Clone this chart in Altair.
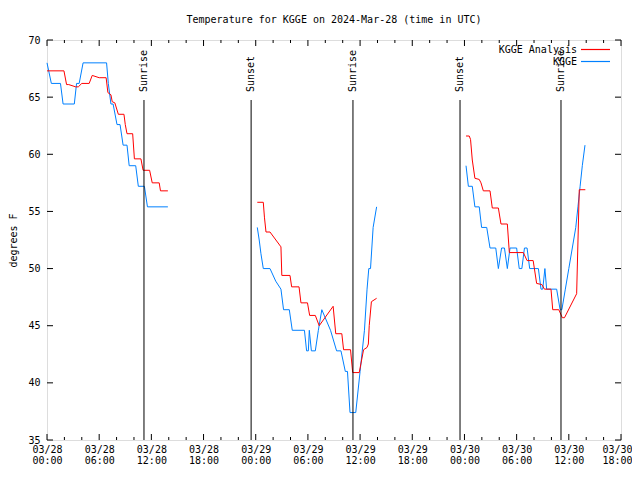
import altair as alt
import pandas as pd

# Time axis: hours since 2024-03-28 00:00 UTC
# KGGE observations (blue), three segments
blue_h1 = [0.0, 0.5, 1.55, 1.85, 3.14, 3.4, 3.7, 4.15, 6.85, 7.05, 7.35, 7.6, 8.05, 8.4, 8.75, 9.2, 9.45, 10.2, 10.5, 11.2, 11.55, 13.9]
blue_t1 = [68.0, 66.2, 66.2, 64.4, 64.4, 66.2, 66.2, 68.0, 68.0, 66.2, 64.4, 64.4, 62.6, 62.6, 60.8, 60.8, 59.0, 59.0, 57.2, 57.2, 55.4, 55.4]
blue_h2 = [24.18, 24.4, 24.6, 24.87, 25.64, 26.3, 26.9, 27.2, 27.86, 28.2, 29.6, 29.85, 30.05, 30.16, 30.4, 30.85, 31.2, 31.6, 32.6, 33.3, 33.8, 34.3, 34.55, 34.84, 35.5, 36.0, 36.5, 36.8, 37.0, 37.2, 37.5, 37.9]
blue_t2 = [53.6, 52.5, 51.3, 50.0, 50.0, 48.9, 48.2, 46.4, 46.4, 44.6, 44.6, 42.8, 42.8, 44.6, 42.8, 42.8, 44.6, 46.4, 44.6, 42.8, 42.8, 41.0, 41.0, 37.4, 37.4, 41.0, 44.6, 48.2, 50.0, 50.0, 53.6, 55.4]
blue_h3 = [48.18, 48.45, 48.9, 49.2, 49.7, 49.97, 50.56, 50.94, 51.6, 51.9, 52.27, 52.6, 52.93, 53.24, 54.0, 54.3, 54.6, 54.9, 55.2, 55.5, 56.5, 56.8, 57.0, 57.25, 57.45, 58.6, 59.0, 59.2, 59.6, 60.0, 60.4, 60.8, 61.05, 61.3, 61.55, 61.86]
blue_t3 = [59.0, 57.2, 57.2, 55.4, 55.4, 53.6, 53.6, 51.8, 51.8, 50.0, 51.8, 51.8, 50.0, 51.8, 51.8, 50.0, 50.0, 51.8, 51.8, 50.0, 50.0, 48.2, 48.2, 50.0, 48.2, 48.2, 46.4, 46.4, 48.2, 50.0, 51.8, 53.6, 55.4, 57.2, 59.0, 60.8]

# KGGE Analysis (red), three segments
red_h1 = [0.0, 1.95, 2.25, 2.5, 3.3, 3.6, 4.0, 4.85, 5.2, 6.0, 6.8, 7.0, 7.35, 7.5, 7.8, 8.2, 8.85, 9.0, 9.2, 9.85, 10.05, 10.8, 11.05, 11.8, 12.1, 12.9, 13.05, 13.9]
red_t1 = [67.3, 67.3, 66.1, 66.1, 65.9, 65.9, 66.2, 66.2, 66.9, 66.7, 66.7, 65.4, 65.2, 64.6, 64.5, 63.5, 63.5, 62.6, 61.8, 61.8, 59.6, 59.6, 58.6, 58.6, 57.5, 57.5, 56.8, 56.8]
red_h2 = [24.18, 24.87, 25.0, 25.18, 25.64, 26.9, 27.0, 27.94, 28.13, 28.98, 29.2, 29.95, 30.2, 30.85, 31.3, 32.9, 33.2, 33.9, 34.1, 34.9, 35.1, 35.15, 35.9, 36.4, 36.8, 36.95, 37.05, 37.3, 37.9]
red_t2 = [55.8, 55.8, 54.5, 53.2, 53.2, 51.9, 49.4, 49.4, 48.4, 48.4, 47.0, 47.0, 45.9, 45.9, 45.0, 46.7, 44.3, 44.3, 42.9, 42.9, 41.3, 40.9, 40.9, 42.9, 43.1, 43.4, 45.0, 47.1, 47.4]
red_h3 = [48.18, 48.55, 48.7, 48.9, 49.2, 49.7, 49.9, 50.17, 50.94, 51.2, 51.9, 52.2, 52.93, 53.16, 54.77, 55.2, 55.9, 56.3, 56.9, 57.2, 57.95, 58.15, 58.85, 59.25, 59.5, 60.9, 61.2, 61.9]
red_t3 = [61.6, 61.6, 61.3, 59.5, 57.9, 57.8, 57.5, 56.8, 56.8, 55.3, 55.3, 53.9, 53.9, 51.4, 51.4, 50.7, 50.7, 48.7, 48.6, 48.2, 48.2, 46.4, 46.4, 45.7, 45.7, 47.8, 56.9, 56.9]

# Sunrise / sunset markers
event_h = [11.15, 23.47, 35.18, 47.49, 59.1]
event_label = ["Sunrise", "Sunset", "Sunrise", "Sunset", "Sunrise"]

x_major = list(range(0, 67, 6))
x_minor = [h for h in range(0, 67, 2) if h % 6 != 0]
y_major = [35, 40, 45, 50, 55, 60, 65, 70]

title_text = "Temperature for KGGE on 2024-Mar-28 (time in UTC)"
series_names = ["KGGE Analysis", "KGGE"]
series_colors = ["#ff0000", "#0080ff"]

FONT = "DejaVu Sans Mono"
W, H = 574, 400
YMIN, YMAX = 35, 70

def seg_frame(hs, ts, seg):
    return pd.DataFrame({"h": hs, "v": ts, "seg": seg})

blue_df = pd.concat([seg_frame(blue_h1, blue_t1, 1), seg_frame(blue_h2, blue_t2, 2), seg_frame(blue_h3, blue_t3, 3)])
red_df = pd.concat([seg_frame(red_h1, red_t1, 1), seg_frame(red_h2, red_t2, 2), seg_frame(red_h3, red_t3, 3)])

xscale = alt.Scale(domain=[0, 66], nice=False, zero=False)
yscale = alt.Scale(domain=[YMIN, YMAX], nice=False, zero=False)

label_expr = ("['03/' + (28 + floor(datum.value / 24)), "
              "(datum.value % 24 < 10 ? '0' : '') + (datum.value % 24) + ':00']")

x_enc = alt.X("h:Q", scale=xscale,
              axis=alt.Axis(values=x_major, labelExpr=label_expr, ticks=False, domain=False,
                            grid=False, title=None, labelFont=FONT, labelFontSize=10,
                            labelColor="black", labelPadding=4, labelLineHeight=11,
                            labelBaseline="top", labelFlush=False, labelOverlap=False,
                            labelOffset={"condition": {"test": "datum.value == 66", "value": -4},
                                         "value": 0}))
y_enc = alt.Y("v:Q", scale=yscale,
              axis=alt.Axis(values=y_major, ticks=False, domain=False, grid=False,
                            title="degrees F", titleFont=FONT, titleFontSize=10,
                            titleFontWeight="normal", titleColor="black", titleAngle=270,
                            titleX=-34, titleY=200, titleAlign="center", titleBaseline="middle",
                            labelFont=FONT, labelFontSize=10, labelColor="black",
                            labelPadding=7, labelFlush=False))

blue_line = alt.Chart(blue_df).mark_line(color=series_colors[1], stroke=series_colors[1], strokeWidth=1).encode(
    x=x_enc, y=y_enc, detail="seg:N", order="h:Q")
red_line = alt.Chart(red_df).mark_line(color=series_colors[0], stroke=series_colors[0], strokeWidth=1).encode(
    x=x_enc, y=y_enc, detail="seg:N", order="h:Q")

# markers drawn from graph 0 to graph 0.85, labels start at graph 0.87
span = YMAX - YMIN
ev_rule_df = pd.DataFrame({"h": event_h, "v": [YMIN] * 5, "v2": [YMIN + 0.85 * span] * 5})
ev_text_df = pd.DataFrame({"h": event_h, "v": [YMIN + 0.87 * span] * 5, "lab": event_label})
ev_rules = alt.Chart(ev_rule_df).mark_rule(color="black", strokeWidth=1).encode(
    x=x_enc, y=y_enc, y2="v2:Q")
ev_text = alt.Chart(ev_text_df).mark_text(angle=270, align="left", baseline="middle",
                                          font=FONT, fontSize=10, color="black").encode(
    x=x_enc, y=y_enc, text="lab:N")

# inward tick marks (gnuplot style)
xmaj_df = pd.DataFrame({"h": x_major})
xmin_df = pd.DataFrame({"h": x_minor})
ymaj_df = pd.DataFrame({"v": y_major})
tick_layers = [
    alt.Chart(xmaj_df).mark_rule(color="black").encode(x=x_enc, y=alt.value(H), y2=alt.value(H - 6)),
    alt.Chart(xmaj_df).mark_rule(color="black").encode(x=x_enc, y=alt.value(0), y2=alt.value(6)),
    alt.Chart(xmin_df).mark_rule(color="black").encode(x=x_enc, y=alt.value(H), y2=alt.value(H - 3)),
    alt.Chart(xmin_df).mark_rule(color="black").encode(x=x_enc, y=alt.value(0), y2=alt.value(3)),
    alt.Chart(ymaj_df).mark_rule(color="black").encode(y=y_enc, x=alt.value(0), x2=alt.value(6)),
    alt.Chart(ymaj_df).mark_rule(color="black").encode(y=y_enc, x=alt.value(W), x2=alt.value(W - 6)),
]

# legend (top right, gnuplot style: text then line sample)
leg_layers = []
for i, (name, col) in enumerate(zip(series_names, series_colors)):
    ypos = 10 + 12 * i
    d = pd.DataFrame({"name": [name]})
    leg_layers.append(alt.Chart(d).mark_text(align="right", baseline="middle", font=FONT,
                                             fontSize=10, color="black").encode(
        text="name:N", x=alt.value(530), y=alt.value(ypos)))
    leg_layers.append(alt.Chart(d).mark_rule(color=col, stroke=col, strokeWidth=1.2).encode(
        x=alt.value(534), x2=alt.value(563), y=alt.value(ypos - 0.5)))

title = alt.Chart(pd.DataFrame({"t": [title_text]})).mark_text(
    font=FONT, fontSize=10, color="black", align="center", baseline="middle").encode(
    text="t:N", x=alt.value(W / 2), y=alt.value(-20))

chart = alt.layer(blue_line, red_line, ev_rules, ev_text, *tick_layers, *leg_layers, title).properties(
    width=W, height=H,
    autosize=alt.AutoSizeParams(type="none"),
    padding={"left": 39, "top": 32, "right": 11, "bottom": 25},
).configure_view(stroke="black", strokeWidth=1).configure(background="white")

chart.save("out.html", embed_options={"renderer": "svg", "actions": False})
